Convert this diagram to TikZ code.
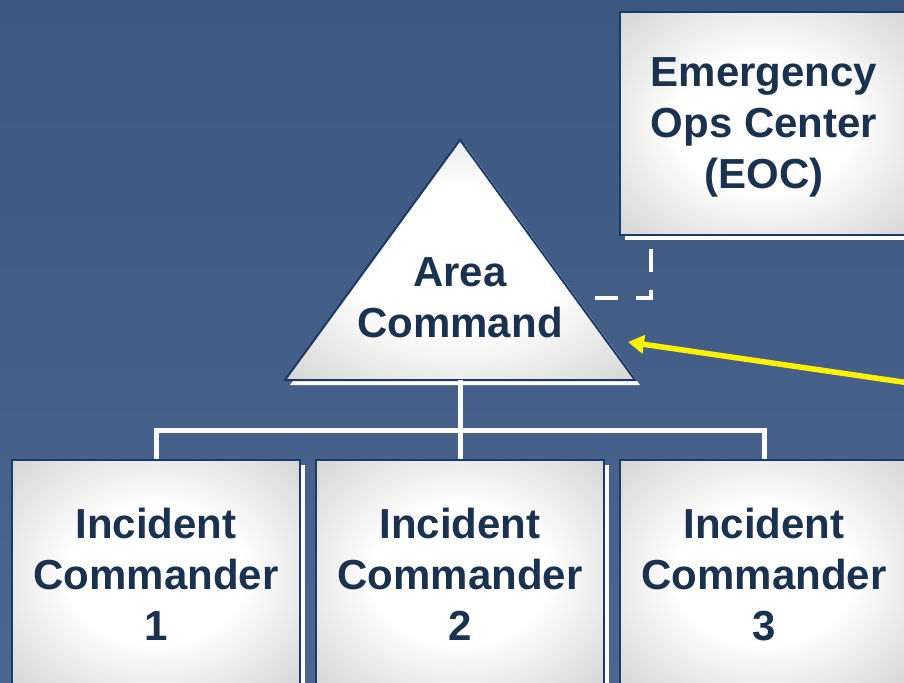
\documentclass[tikz,border=0pt]{standalone}
\usepackage{fontspec}
\setmainfont{Liberation Sans}
\usetikzlibrary{arrows.meta,shadows}
\definecolor{bgtop}{HTML}{3C5880}
\definecolor{bgbot}{HTML}{4A6691}
\definecolor{navy}{HTML}{1B3A66}
\definecolor{inktext}{HTML}{1A324F}
\definecolor{boxgray}{HTML}{D4D4D4}
\pgfdeclareradialshading{orgglow}{\pgfpoint{0bp}{0bp}}{color(0bp)=(white); color(15bp)=(white); color(36bp)=(boxgray); color(50bp)=(boxgray)}

\begin{document}
\begin{tikzpicture}[x=0.5pt,y=-0.5pt]
\tikzstyle{every node}+=[font=\fontsize{21}{25.5}\selectfont\bfseries, text=inktext, align=center, text depth=0pt]
\tikzstyle{orgshape}=[draw=navy, line width=1pt, shade, shading=orgglow, drop shadow={shadow xshift=2.5pt, shadow yshift=-2.5pt, fill=white, opacity=1}]
\tikzstyle{orgbox}=[orgshape, minimum width=144pt]
\tikzstyle{tree}=[draw=white, line width=2.5pt]
\tikzstyle{liaison}=[draw=white, line width=2pt, dash pattern=on 11.5pt off 9pt]
\tikzstyle{pointer}=[draw=yellow, line width=2.75pt, -{Triangle[length=8pt,width=9pt]}]
\clip (0,0) rectangle (904,682);
\shade [top color=bgtop, bottom color=bgbot] (0,0) rectangle (904,682);
\node [orgbox, minimum height=111.5pt] (eoc) at (764,123.5) {Emergency\\Ops Center\\(EOC)};
\node [orgbox, minimum height=114pt] (ic1) at (156,574) {Incident\\Commander\\1};
\node [orgbox, minimum height=114pt] (ic2) at (460,574) {Incident\\Commander\\2};
\node [orgbox, minimum height=114pt] (ic3) at (764,574) {Incident\\Commander\\3};
\coordinate (apex) at (460,140);
\coordinate (baseR) at (635,380);
\coordinate (baseL) at (285,380);
\path [orgshape] (apex) -- (baseR) -- (baseL) -- cycle;
\node (ac) at (460,297.5) {Area\\Command};
\coordinate (acfoot) at (460,380);
\draw [tree] (acfoot) -- ++(0,50) -| (ic1.north);
\draw [tree] (acfoot) -- (ic2.north);
\draw [tree] (acfoot) ++(0,50) -| (ic3.north);
\coordinate (liaisonend) at (595,298);
\draw [liaison] (liaisonend) -| ([xshift=16pt]eoc.south west);
\coordinate (pointertail) at (930,386);
\coordinate (pointertip) at (628,342);
\draw [pointer] (pointertail) -- (pointertip);
\end{tikzpicture}
\end{document}
